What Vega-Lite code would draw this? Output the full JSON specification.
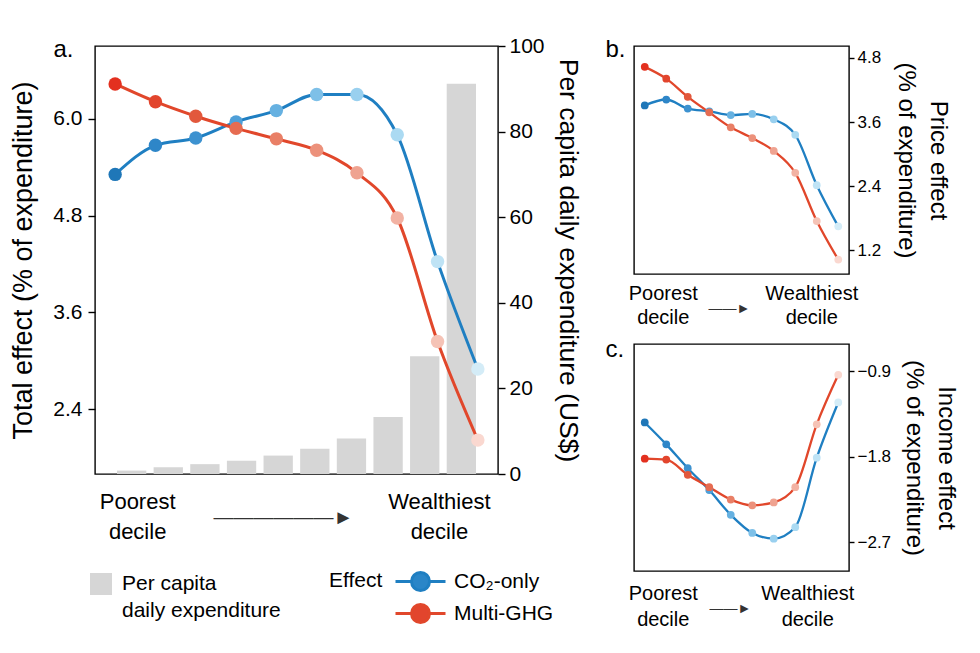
{
  "$schema": "https://vega.github.io/schema/vega-lite/v6.json",
  "padding": {"left": 9, "top": 34, "right": 5, "bottom": 5},
  "background": "white",
  "config": {
    "font": "Liberation Sans",
    "view": {"stroke": "#000", "strokeWidth": 1.4},
    "axis": {"grid": false, "domain": false, "tickColor": "#000", "tickWidth": 1.4, "labelColor": "#000", "titleColor": "#000", "titleFontWeight": "normal"},
    "legend": {"labelColor": "#000", "titleColor": "#000", "titleFontWeight": "normal", "padding": 0},
    "title": {"fontWeight": "normal", "color": "#000"}
  },
  "datasets": {
    "total": [
      {"decile": 1, "effect": "CO₂-only", "value": 5.31},
      {"decile": 2, "effect": "CO₂-only", "value": 5.67},
      {"decile": 3, "effect": "CO₂-only", "value": 5.76},
      {"decile": 4, "effect": "CO₂-only", "value": 5.96},
      {"decile": 5, "effect": "CO₂-only", "value": 6.10},
      {"decile": 6, "effect": "CO₂-only", "value": 6.30},
      {"decile": 7, "effect": "CO₂-only", "value": 6.30},
      {"decile": 8, "effect": "CO₂-only", "value": 5.80},
      {"decile": 9, "effect": "CO₂-only", "value": 4.23},
      {"decile": 10, "effect": "CO₂-only", "value": 2.90},
      {"decile": 1, "effect": "Multi-GHG", "value": 6.43},
      {"decile": 2, "effect": "Multi-GHG", "value": 6.21},
      {"decile": 3, "effect": "Multi-GHG", "value": 6.03},
      {"decile": 4, "effect": "Multi-GHG", "value": 5.88},
      {"decile": 5, "effect": "Multi-GHG", "value": 5.75},
      {"decile": 6, "effect": "Multi-GHG", "value": 5.61},
      {"decile": 7, "effect": "Multi-GHG", "value": 5.33},
      {"decile": 8, "effect": "Multi-GHG", "value": 4.77},
      {"decile": 9, "effect": "Multi-GHG", "value": 3.24},
      {"decile": 10, "effect": "Multi-GHG", "value": 2.02}
    ],
    "spend": [
      {"decile": 1, "spend": 0.8, "series": "Per capita daily expenditure"},
      {"decile": 2, "spend": 1.6, "series": "Per capita daily expenditure"},
      {"decile": 3, "spend": 2.3, "series": "Per capita daily expenditure"},
      {"decile": 4, "spend": 3.1, "series": "Per capita daily expenditure"},
      {"decile": 5, "spend": 4.3, "series": "Per capita daily expenditure"},
      {"decile": 6, "spend": 5.9, "series": "Per capita daily expenditure"},
      {"decile": 7, "spend": 8.3, "series": "Per capita daily expenditure"},
      {"decile": 8, "spend": 13.3, "series": "Per capita daily expenditure"},
      {"decile": 9, "spend": 27.5, "series": "Per capita daily expenditure"},
      {"decile": 10, "spend": 91.2, "series": "Per capita daily expenditure"}
    ],
    "price": [
      {"decile": 1, "effect": "CO₂-only", "value": 3.91},
      {"decile": 2, "effect": "CO₂-only", "value": 4.02},
      {"decile": 3, "effect": "CO₂-only", "value": 3.85},
      {"decile": 4, "effect": "CO₂-only", "value": 3.80},
      {"decile": 5, "effect": "CO₂-only", "value": 3.73},
      {"decile": 6, "effect": "CO₂-only", "value": 3.75},
      {"decile": 7, "effect": "CO₂-only", "value": 3.65},
      {"decile": 8, "effect": "CO₂-only", "value": 3.36},
      {"decile": 9, "effect": "CO₂-only", "value": 2.42},
      {"decile": 10, "effect": "CO₂-only", "value": 1.65},
      {"decile": 1, "effect": "Multi-GHG", "value": 4.63},
      {"decile": 2, "effect": "Multi-GHG", "value": 4.41},
      {"decile": 3, "effect": "Multi-GHG", "value": 4.07},
      {"decile": 4, "effect": "Multi-GHG", "value": 3.78},
      {"decile": 5, "effect": "Multi-GHG", "value": 3.50},
      {"decile": 6, "effect": "Multi-GHG", "value": 3.30},
      {"decile": 7, "effect": "Multi-GHG", "value": 3.06},
      {"decile": 8, "effect": "Multi-GHG", "value": 2.65},
      {"decile": 9, "effect": "Multi-GHG", "value": 1.75},
      {"decile": 10, "effect": "Multi-GHG", "value": 1.03}
    ],
    "income": [
      {"decile": 1, "effect": "CO₂-only", "value": -1.44},
      {"decile": 2, "effect": "CO₂-only", "value": -1.67},
      {"decile": 3, "effect": "CO₂-only", "value": -1.92},
      {"decile": 4, "effect": "CO₂-only", "value": -2.15},
      {"decile": 5, "effect": "CO₂-only", "value": -2.41},
      {"decile": 6, "effect": "CO₂-only", "value": -2.60},
      {"decile": 7, "effect": "CO₂-only", "value": -2.66},
      {"decile": 8, "effect": "CO₂-only", "value": -2.54},
      {"decile": 9, "effect": "CO₂-only", "value": -1.81},
      {"decile": 10, "effect": "CO₂-only", "value": -1.23},
      {"decile": 1, "effect": "Multi-GHG", "value": -1.82},
      {"decile": 2, "effect": "Multi-GHG", "value": -1.83},
      {"decile": 3, "effect": "Multi-GHG", "value": -1.99},
      {"decile": 4, "effect": "Multi-GHG", "value": -2.12},
      {"decile": 5, "effect": "Multi-GHG", "value": -2.25},
      {"decile": 6, "effect": "Multi-GHG", "value": -2.31},
      {"decile": 7, "effect": "Multi-GHG", "value": -2.28},
      {"decile": 8, "effect": "Multi-GHG", "value": -2.12},
      {"decile": 9, "effect": "Multi-GHG", "value": -1.46},
      {"decile": 10, "effect": "Multi-GHG", "value": -0.94}
    ]
  },
  "hconcat": [
    {
      "width": 403,
      "height": 428,
      "layer": [
        {
          "data": {"name": "spend"},
          "mark": {"type": "bar"},
          "encoding": {
            "x": {
              "field": "decile", "type": "ordinal",
              "scale": {"paddingInner": 0.2, "paddingOuter": 0.6},
              "axis": {
                "title": "——————►", "titleFontSize": 20, "titleColor": "#333",
                "titleAlign": "center", "titleBaseline": "middle", "titleX": 188, "titleY": 43,
                "ticks": false, "labelAngle": 0, "labelFontSize": 22, "labelLineHeight": 30,
                "labelPadding": 17, "labelOverlap": false, "labelBound": false, "labelFlush": false,
                "labelBaseline": "top",
                "labelOffset": {"condition": {"test": "datum.value == 1", "value": 6}, "value": -22},
                "labelExpr": "datum.value == 1 ? ['Poorest', 'decile'] : datum.value == 10 ? ['Wealthiest', 'decile'] : ''"
              }
            },
            "y": {
              "field": "spend", "type": "quantitative",
              "scale": {"domain": [0, 100], "nice": false},
              "axis": {"orient": "right", "values": [0, 20, 40, 60, 80, 100], "title": "Per capita daily expenditure (US$)",
                "titleFontSize": 26.5, "labelFontSize": 21, "tickSize": 7, "labelPadding": 4, "titlePadding": 9}
            },
            "fill": {
              "field": "series", "type": "nominal",
              "scale": {"domain": ["Per capita daily expenditure"], "range": ["#d6d6d6"]},
              "legend": {"orient": "none", "legendX": -5, "legendY": 527, "title": null,
                "symbolType": "square", "symbolSize": 484, "symbolStrokeWidth": 0, "labelOffset": 10,
                "labelFontSize": 21, "labelBaseline": "alphabetic",
                "labelExpr": "['Per capita', 'daily expenditure']",
                "encode": {"labels": {"update": {"dy": {"value": 6}, "lineHeight": {"value": 27}}}}}
            }
          }
        },
        {
          "data": {"name": "total"},
          "layer": [
            {
              "mark": {"type": "line", "strokeWidth": 3, "interpolate": "monotone"},
              "encoding": {
                "x": {
                  "field": "decile", "type": "ordinal",
                  "scale": {"paddingInner": 0.2, "paddingOuter": 0.6},
                  "axis": {"orient": "top", "labels": false, "ticks": false, "domain": false,
                    "title": "a.", "titleFontSize": 24, "titleAlign": "left", "titleBaseline": "alphabetic",
                    "titleAnchor": "start", "titleX": -42, "titleY": 10}
                },
                "y": {
                  "field": "value", "type": "quantitative",
                  "scale": {"domain": [1.6, 6.9], "nice": false, "zero": false},
                  "axis": {"orient": "left", "values": [2.4, 3.6, 4.8, 6.0], "format": ".1f",
                    "title": "Total effect (% of expenditure)", "titleFontSize": 27, "labelFontSize": 21,
                    "tickSize": 7, "labelPadding": 6, "titlePadding": 15}
                },
                "stroke": {
                  "field": "effect", "type": "nominal",
                  "scale": {"domain": ["CO₂-only", "Multi-GHG"], "range": ["#1f7fc2", "#e1472b"]},
                  "legend": {"orient": "none", "legendX": 234, "legendY": 524, "title": "Effect", "titleOrient": "left",
                    "titleAnchor": "start", "titleFontSize": 21, "titlePadding": 26, "titleBaseline": "top",
                    "labelFontSize": 21, "labelOffset": 22, "rowPadding": 1,
                    "symbolType": "M-2.5,0H-0.9A0.9,0.9,0,1,1,0.9,0A0.9,0.9,0,1,1,-0.9,0M0.9,0H2.5",
                    "symbolSize": 400, "symbolStrokeWidth": 3,
                    "encode": {"symbols": {"update": {"fill": {"signal": "datum.value == 'CO₂-only' ? '#2a86c8' : '#e2452d'"}, "fillOpacity": {"value": 1}}}}}
                }
              }
            },
            {
              "transform": [{"filter": {"field": "effect", "equal": "CO₂-only"}}],
              "mark": {"type": "point", "filled": true, "opacity": 1, "size": 180},
              "encoding": {
                "x": {"field": "decile", "type": "ordinal"},
                "y": {"field": "value", "type": "quantitative"},
                "color": {"field": "decile", "type": "ordinal", "legend": null,
                  "scale": {"domain": [1, 2, 3, 4, 5, 6, 7, 8, 9, 10],
                    "range": ["#1f77b8", "#2e86c8", "#3d92d0", "#4e9fd8", "#66b1e1", "#7ec0e8", "#99d0ef", "#abdaf2", "#bfe3f5", "#d4ecf7"]}}
              }
            },
            {
              "transform": [{"filter": {"field": "effect", "equal": "Multi-GHG"}}],
              "mark": {"type": "point", "filled": true, "opacity": 1, "size": 180},
              "encoding": {
                "x": {"field": "decile", "type": "ordinal"},
                "y": {"field": "value", "type": "quantitative"},
                "color": {"field": "decile", "type": "ordinal", "legend": null,
                  "scale": {"domain": [1, 2, 3, 4, 5, 6, 7, 8, 9, 10],
                    "range": ["#e3301f", "#e2452d", "#e2583c", "#e66c51", "#e97f66", "#ec917b", "#efa391", "#f2b2a3", "#f5c3b6", "#fad8d0"]}}
              }
            }
          ],
          "resolve": {"scale": {"color": "independent"}}
        }
      ],
      "resolve": {"scale": {"y": "independent", "x": "independent"}}
    },
    {
      "vconcat": [
        {
          "width": 215,
          "height": 228,
          "data": {"name": "price"},
          "layer": [
            {
              "mark": {"type": "line", "strokeWidth": 2.3, "interpolate": "monotone"},
              "encoding": {
                "x": {
                  "field": "decile", "type": "ordinal",
                  "scale": {"paddingInner": 0.2, "paddingOuter": 0.6},
                  "axis": {
                    "title": "——►", "titleFontSize": 14, "titleColor": "#333",
                    "titleAlign": "center", "titleBaseline": "middle", "titleX": 95, "titleY": 34,
                    "ticks": false, "labelAngle": 0, "labelFontSize": 20, "labelLineHeight": 24,
                    "labelPadding": 9, "labelOverlap": false, "labelBound": false, "labelFlush": false,
                    "labelBaseline": "top",
                    "labelOffset": {"condition": {"test": "datum.value == 1", "value": 18}, "value": -27},
                    "labelExpr": "datum.value == 1 ? ['Poorest', 'decile'] : datum.value == 10 ? ['Wealthiest', 'decile'] : ''"
                  }
                },
                "y": {
                  "field": "value", "type": "quantitative",
                  "scale": {"domain": [0.76, 5.02], "nice": false, "zero": false},
                  "axis": {"orient": "right", "values": [1.2, 2.4, 3.6, 4.8], "format": ".1f",
                    "title": ["Price effect", "(% of expenditure)"], "titleFontSize": 24, "titleLineHeight": 32,
                    "labelFontSize": 17, "tickSize": 5, "labelPadding": 3, "titlePadding": 13}
                },
                "stroke": {
                  "field": "effect", "type": "nominal", "legend": null,
                  "scale": {"domain": ["CO₂-only", "Multi-GHG"], "range": ["#1f7fc2", "#e1472b"]}
                }
              }
            },
            {
              "transform": [{"filter": {"field": "effect", "equal": "CO₂-only"}}],
              "mark": {"type": "point", "filled": true, "opacity": 1, "size": 60},
              "encoding": {
                "x": {
                  "field": "decile", "type": "ordinal",
                  "scale": {"paddingInner": 0.2, "paddingOuter": 0.6},
                  "axis": {"orient": "top", "labels": false, "ticks": false, "domain": false,
                    "title": "b.", "titleFontSize": 24, "titleAlign": "left", "titleBaseline": "alphabetic",
                    "titleAnchor": "start", "titleX": -29, "titleY": 10}
                },
                "y": {"field": "value", "type": "quantitative"},
                "color": {"field": "decile", "type": "ordinal", "legend": null,
                  "scale": {"domain": [1, 2, 3, 4, 5, 6, 7, 8, 9, 10],
                    "range": ["#1f77b8", "#2e86c8", "#3d92d0", "#4e9fd8", "#66b1e1", "#7ec0e8", "#99d0ef", "#abdaf2", "#bfe3f5", "#d4ecf7"]}}
              }
            },
            {
              "transform": [{"filter": {"field": "effect", "equal": "Multi-GHG"}}],
              "mark": {"type": "point", "filled": true, "opacity": 1, "size": 60},
              "encoding": {
                "x": {"field": "decile", "type": "ordinal", "scale": {"paddingInner": 0.2, "paddingOuter": 0.6}, "axis": null},
                "y": {"field": "value", "type": "quantitative"},
                "color": {"field": "decile", "type": "ordinal", "legend": null,
                  "scale": {"domain": [1, 2, 3, 4, 5, 6, 7, 8, 9, 10],
                    "range": ["#e3301f", "#e2452d", "#e2583c", "#e66c51", "#e97f66", "#ec917b", "#efa391", "#f2b2a3", "#f5c3b6", "#fad8d0"]}}
              }
            }
          ],
          "resolve": {"scale": {"color": "independent", "x": "independent"}}
        },
        {
          "width": 215,
          "height": 227,
          "data": {"name": "income"},
          "layer": [
            {
              "mark": {"type": "line", "strokeWidth": 2.3, "interpolate": "monotone"},
              "encoding": {
                "x": {
                  "field": "decile", "type": "ordinal",
                  "scale": {"paddingInner": 0.2, "paddingOuter": 0.6},
                  "axis": {
                    "title": "——►", "titleFontSize": 14, "titleColor": "#333",
                    "titleAlign": "center", "titleBaseline": "middle", "titleX": 96, "titleY": 37,
                    "ticks": false, "labelAngle": 0, "labelFontSize": 20, "labelLineHeight": 26,
                    "labelPadding": 12, "labelOverlap": false, "labelBound": false, "labelFlush": false,
                    "labelBaseline": "top",
                    "labelOffset": {"condition": {"test": "datum.value == 1", "value": 18}, "value": -31},
                    "labelExpr": "datum.value == 1 ? ['Poorest', 'decile'] : datum.value == 10 ? ['Wealthiest', 'decile'] : ''"
                  }
                },
                "y": {
                  "field": "value", "type": "quantitative",
                  "scale": {"domain": [-3.0, -0.616], "nice": false, "zero": false},
                  "axis": {"orient": "right", "values": [-2.7, -1.8, -0.9], "format": ".1f",
                    "title": ["Income effect", "(% of expenditure)"], "titleFontSize": 24, "titleLineHeight": 32,
                    "labelFontSize": 17, "tickSize": 5, "labelPadding": 3, "titlePadding": 11}
                },
                "stroke": {
                  "field": "effect", "type": "nominal", "legend": null,
                  "scale": {"domain": ["CO₂-only", "Multi-GHG"], "range": ["#1f7fc2", "#e1472b"]}
                }
              }
            },
            {
              "transform": [{"filter": {"field": "effect", "equal": "CO₂-only"}}],
              "mark": {"type": "point", "filled": true, "opacity": 1, "size": 60},
              "encoding": {
                "x": {
                  "field": "decile", "type": "ordinal",
                  "scale": {"paddingInner": 0.2, "paddingOuter": 0.6},
                  "axis": {"orient": "top", "labels": false, "ticks": false, "domain": false,
                    "title": "c.", "titleFontSize": 24, "titleAlign": "left", "titleBaseline": "alphabetic",
                    "titleAnchor": "start", "titleX": -29, "titleY": 12}
                },
                "y": {"field": "value", "type": "quantitative"},
                "color": {"field": "decile", "type": "ordinal", "legend": null,
                  "scale": {"domain": [1, 2, 3, 4, 5, 6, 7, 8, 9, 10],
                    "range": ["#1f77b8", "#2e86c8", "#3d92d0", "#4e9fd8", "#66b1e1", "#7ec0e8", "#99d0ef", "#abdaf2", "#bfe3f5", "#d4ecf7"]}}
              }
            },
            {
              "transform": [{"filter": {"field": "effect", "equal": "Multi-GHG"}}],
              "mark": {"type": "point", "filled": true, "opacity": 1, "size": 60},
              "encoding": {
                "x": {"field": "decile", "type": "ordinal", "scale": {"paddingInner": 0.2, "paddingOuter": 0.6}, "axis": null},
                "y": {"field": "value", "type": "quantitative"},
                "color": {"field": "decile", "type": "ordinal", "legend": null,
                  "scale": {"domain": [1, 2, 3, 4, 5, 6, 7, 8, 9, 10],
                    "range": ["#e3301f", "#e2452d", "#e2583c", "#e66c51", "#e97f66", "#ec917b", "#efa391", "#f2b2a3", "#f5c3b6", "#fad8d0"]}}
              }
            }
          ],
          "resolve": {"scale": {"color": "independent", "x": "independent"}}
        }
      ],
      "spacing": 70,
      "bounds": "flush",
      "resolve": {"scale": {"color": "independent", "stroke": "independent"}, "legend": {"color": "independent", "stroke": "independent"}}
    }
  ],
  "spacing": 136,
  "bounds": "flush",
  "resolve": {"scale": {"color": "independent", "stroke": "independent", "fill": "independent"}, "legend": {"color": "independent", "stroke": "independent", "fill": "independent"}}
}
